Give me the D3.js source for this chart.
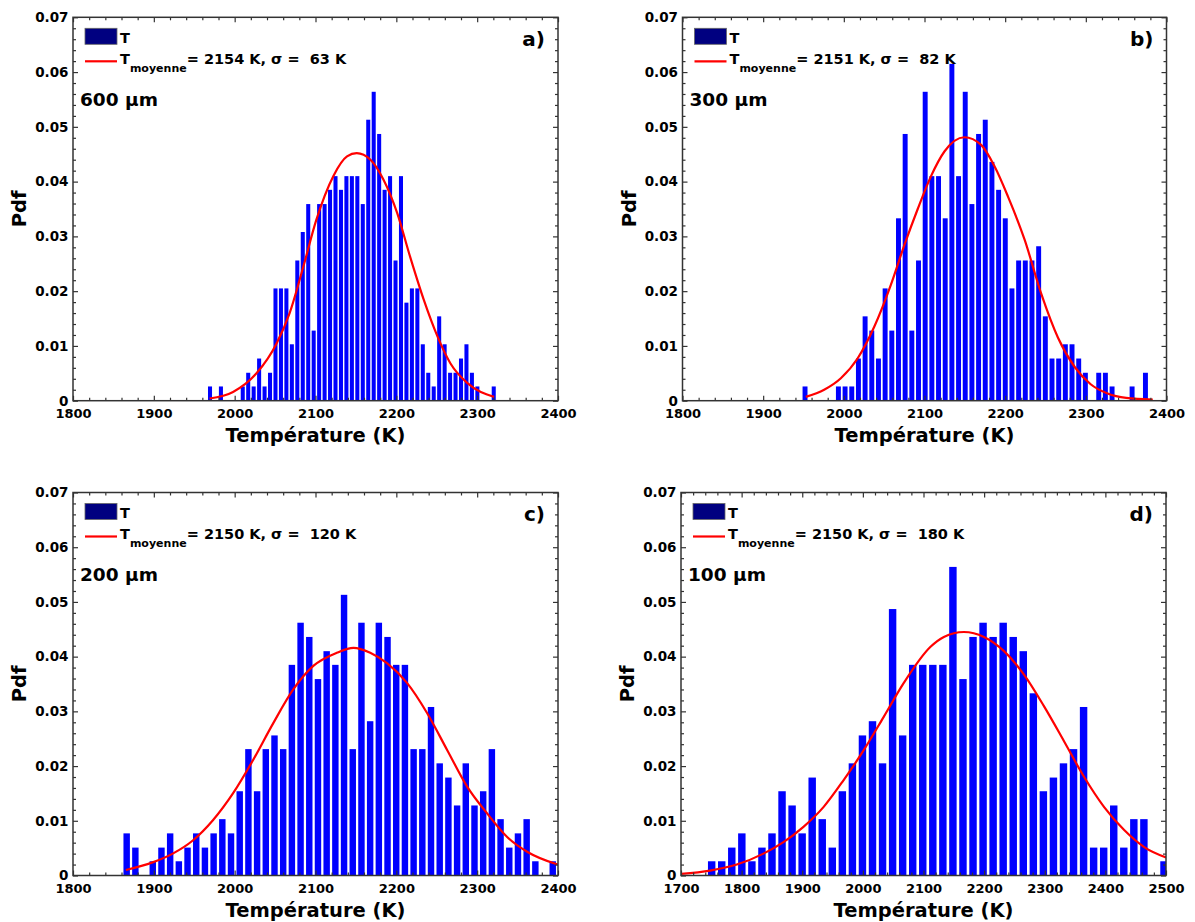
<!DOCTYPE html>
<html><head><meta charset="utf-8">
<script src="https://cdn.jsdelivr.net/npm/d3@7"></script>
<style>
body{margin:0;background:#fff}
text{font-family:'DejaVu Sans',sans-serif;font-weight:bold}
</style>
</head><body>
<svg id="chart" width="1195" height="922"></svg>
<script>
// ---------------- DATA ----------------
// Histogram Pdf values, one per bin, from the first to the last bin
const pdfA = [0.0026,0,0.0026,0,0,0,0.0026,0.0051,0.0026,0.0077,
  0.0026,0.0051,0.0205,0.0205,0.0205,0.0103,0.0256,0.0308,0.0359,0.0128,
  0.0359,0.0359,0.0385,0.0410,0.0385,0.0410,0.0410,0.0410,0.0359,0.0513,
  0.0564,0.0487,0.0385,0.0410,0.0256,0.0410,0.0179,0.0205,0.0205,0.0103,
  0.0051,0.0026,0.0154,0.0103,0.0051,0.0051,0.0077,0.0103,0.0051,0.0026,
  0,0,0.0026];
const pdfB = [0.0026,0,0,0,0,0.0026,0.0026,0.0026,0.0077,0.0154,
  0.0128,0.0077,0.0205,0.0128,0.0333,0.0487,0.0128,0.0256,0.0564,0.0410,
  0.0410,0.0333,0.0615,0.0410,0.0564,0.0359,0.0487,0.0513,0.0436,0.0385,
  0.0333,0.0205,0.0256,0.0256,0.0256,0.0282,0.0154,0.0077,0.0077,0.0103,
  0.0103,0.0077,0.0051,0,0.0051,0.0051,0.0026,0,0,0.0026,
  0,0.0051];
const pdfC = [0.0077,0.0051,0,0.0026,0.0051,0.0077,0.0026,0.0051,0.0077,0.0051,
  0.0077,0.0103,0.0077,0.0154,0.0231,0.0154,0.0231,0.0256,0.0231,0.0385,
  0.0462,0.0436,0.0359,0.0410,0.0385,0.0513,0.0231,0.0462,0.0282,0.0462,
  0.0436,0.0385,0.0385,0.0231,0.0231,0.0308,0.0205,0.0179,0.0128,0.0205,
  0.0128,0.0154,0.0231,0.0103,0.0051,0.0077,0.0103,0.0026,0,0.0026];
const pdfD = [0.0026,0.0026,0.0051,0.0077,0.0026,0.0051,0.0077,0.0154,0.0128,0.0077,
  0.0179,0.0103,0.0051,0.0154,0.0205,0.0256,0.0282,0.0205,0.0487,0.0256,
  0.0385,0.0385,0.0385,0.0385,0.0564,0.0359,0.0436,0.0462,0.0436,0.0462,
  0.0436,0.0410,0.0333,0.0154,0.0179,0.0205,0.0231,0.0308,0.0051,0.0051,
  0.0128,0.0051,0.0103,0.0103,0,0.0026];
// Centre temperature of first and last bin (K)
const binRangeA = [1969.5, 2320.5];
const binRangeB = [1951.9, 2373.9];
const binRangeC = [1866.4, 2393.5];
const binRangeD = [1750.6, 2496.7];

// Fitted normal curve
const curveTA = [1969,1998,2027,2052,2068,2085,2101,2122,2139,2151,2168,2184,2201,2217,2234,2251,2267,2288,2321];
const curvePA = [0.0004,0.0016,0.005,0.0105,0.016,0.0245,0.033,0.041,0.0446,0.0452,0.044,0.0404,0.0343,0.0263,0.0184,0.0117,0.0068,0.0032,0.0007];
const curveTB = [1952.8,1975.6,1996.3,2017,2037.7,2058.4,2075,2091.6,2108.1,2124.7,2149.5,2170.2,2186.8,2203.4,2224.1,2244.8,2265.5,2286,2306,2327,2350,2383];
const curvePB = [0.0007,0.002,0.0041,0.0077,0.0135,0.0212,0.0284,0.0350,0.0410,0.0455,0.0481,0.0467,0.0428,0.0373,0.0294,0.0195,0.0115,0.0062,0.003,0.0013,0.0005,0.0002];
const curveTC = [1865.4,1898.5,1923.4,1948.2,1973.1,1997.9,2022.8,2047.6,2072.5,2097.3,2126.3,2147,2167.7,2188.4,2213.2,2238,2263,2287.8,2312.6,2337.4,2362.3,2399.6];
const curvePC = [0.001,0.0024,0.004,0.0064,0.0101,0.015,0.0211,0.0278,0.034,0.0383,0.0407,0.0416,0.0407,0.0388,0.0352,0.0297,0.0229,0.0162,0.0113,0.007,0.0043,0.002];
const curveTD = [1700,1748,1792,1836,1869,1902,1935,1968,2001.4,2034.4,2067.5,2111.6,2133.6,2166.7,2199.7,2232.8,2265.8,2298.9,2332,2365,2398,2431,2464,2500];
const curvePD = [0.0003,0.0009,0.002,0.004,0.0061,0.0089,0.0125,0.0174,0.0229,0.029,0.0352,0.0418,0.0436,0.0445,0.0436,0.041,0.0367,0.0309,0.0245,0.018,0.0125,0.0083,0.0052,0.0033];

// Legend / annotation texts
const panelTags  = ["a)", "b)", "c)", "d)"];
const sizeLabels = ["600 µm", "300 µm", "200 µm", "100 µm"];
const meanValues = [2154, 2151, 2150, 2150];
const sigmaValues = [63, 82, 120, 180];

// Axis ticks
const xTicksABC = [1800,1900,2000,2100,2200,2300,2400];
const xTicksD   = [1700,1800,1900,2000,2100,2200,2300,2400,2500];
const yTicks = [0,0.01,0.02,0.03,0.04,0.05,0.06,0.07];
const yTickLabels = ["0","0.01","0.02","0.03","0.04","0.05","0.06","0.07"];
const yLabel = "Pdf";
const xLabel = "Température (K)";

// ---------------- LAYOUT ----------------
const boxes = [
  {L:73,    R:558,    T:17.3,  B:400.7},
  {L:682.5, R:1166.5, T:17.3,  B:400.7},
  {L:73,    R:558,    T:492.5, B:875.5},
  {L:681,   R:1166,   T:492.5, B:875.5}
];
const pdfs = [pdfA, pdfB, pdfC, pdfD];
const ranges = [binRangeA, binRangeB, binRangeC, binRangeD];
const curvesT = [curveTA, curveTB, curveTC, curveTD];
const curvesP = [curvePA, curvePB, curvePC, curvePD];
const xTickSets = [xTicksABC, xTicksABC, xTicksABC, xTicksD];

const svg = d3.select("#chart");
const FRAME = "#333333";
const FONT = "'DejaVu Sans', sans-serif";

function styleAxis(g, size){
  g.select(".domain").remove();
  g.attr("font-family", FONT).attr("font-size", size).attr("font-weight", "bold").attr("color", "#000");
  g.selectAll(".tick line").attr("stroke", FRAME).attr("stroke-width", 1.2);
}

boxes.forEach((b, k) => {
  const xt = xTickSets[k];
  const xDom = [xt[0], xt[xt.length-1]];
  const x = d3.scaleLinear().domain(xDom).range([b.L, b.R]);
  const y = d3.scaleLinear().domain([0, 0.07]).range([b.B, b.T]);
  const g = svg.append("g");

  const clipId = "clip" + k;
  svg.append("clipPath").attr("id", clipId).append("rect")
    .attr("x", b.L).attr("y", b.T).attr("width", b.R - b.L).attr("height", b.B - b.T);

  // bars
  const vals = pdfs[k];
  const r = ranges[k];
  const step = (r[1] - r[0]) / (vals.length - 1);
  const bw = (x(r[0] + step) - x(r[0])) * 0.74;
  g.append("g").attr("clip-path", `url(#${clipId})`)
    .selectAll("rect").data(vals).join("rect")
    .attr("x", (d, i) => x(r[0] + i * step) - bw / 2)
    .attr("width", bw)
    .attr("y", d => y(d))
    .attr("height", d => y(0) - y(d))
    .attr("fill", "#0000ff");

  // fitted curve
  const line = d3.line().x(d => x(d[0])).y(d => y(d[1])).curve(d3.curveMonotoneX);
  g.append("path").attr("clip-path", `url(#${clipId})`)
    .datum(d3.zip(curvesT[k], curvesP[k]))
    .attr("d", line).attr("fill", "none")
    .attr("stroke", "#ff0000").attr("stroke-width", 2.2);

  // axes (ticks inward, mirrored)
  const minorX = d3.range(xDom[0], xDom[1] + 0.1, 20).filter(v => xt.indexOf(v) < 0);
  const minorY = d3.range(0, 0.0701, 0.002).filter(v => Math.abs(Math.round(v * 100) - v * 100) > 1e-6);

  g.append("g").attr("transform", `translate(0,${b.B})`)
    .call(d3.axisBottom(x).tickValues(xt).tickSize(-5).tickSizeOuter(0).tickPadding(8.5).tickFormat(d3.format("d")))
    .call(a => styleAxis(a, 13));
  g.append("g").attr("transform", `translate(0,${b.B})`)
    .call(d3.axisBottom(x).tickValues(minorX).tickSize(-3).tickSizeOuter(0).tickFormat(""))
    .call(a => styleAxis(a, 13));
  g.append("g").attr("transform", `translate(0,${b.T})`)
    .call(d3.axisTop(x).tickValues(xt).tickSize(-5).tickSizeOuter(0).tickFormat(""))
    .call(a => styleAxis(a, 13));
  g.append("g").attr("transform", `translate(0,${b.T})`)
    .call(d3.axisTop(x).tickValues(minorX).tickSize(-3).tickSizeOuter(0).tickFormat(""))
    .call(a => styleAxis(a, 13));

  g.append("g").attr("transform", `translate(${b.L},0)`)
    .call(d3.axisLeft(y).tickValues(yTicks).tickSize(-5).tickSizeOuter(0).tickPadding(4.5).tickFormat((d, i) => yTickLabels[i]))
    .call(a => styleAxis(a, 13.5));
  g.append("g").attr("transform", `translate(${b.L},0)`)
    .call(d3.axisLeft(y).tickValues(minorY).tickSize(-3).tickSizeOuter(0).tickFormat(""))
    .call(a => styleAxis(a, 13));
  g.append("g").attr("transform", `translate(${b.R},0)`)
    .call(d3.axisRight(y).tickValues(yTicks).tickSize(-5).tickSizeOuter(0).tickFormat(""))
    .call(a => styleAxis(a, 13));
  g.append("g").attr("transform", `translate(${b.R},0)`)
    .call(d3.axisRight(y).tickValues(minorY).tickSize(-3).tickSizeOuter(0).tickFormat(""))
    .call(a => styleAxis(a, 13));

  // frame
  g.append("rect").attr("x", b.L).attr("y", b.T).attr("width", b.R - b.L).attr("height", b.B - b.T)
    .attr("fill", "none").attr("stroke", FRAME).attr("stroke-width", 1.5);

  // legend
  g.append("rect").attr("x", b.L + 12).attr("y", b.T + 11).attr("width", 32).attr("height", 16)
    .attr("fill", "#000080").attr("stroke", "#666").attr("stroke-width", 0.8);
  g.append("text").attr("x", b.L + 47).attr("y", b.T + 25.5).attr("font-size", 14.5).text("T");
  g.append("line").attr("x1", b.L + 12).attr("x2", b.L + 44).attr("y1", b.T + 44).attr("y2", b.T + 44)
    .attr("stroke", "#ff0000").attr("stroke-width", 2.2);
  const lt = g.append("text").attr("x", b.L + 47).attr("y", b.T + 46.7).attr("font-size", 14.5)
    .style("white-space", "pre");
  lt.append("tspan").text("T");
  lt.append("tspan").attr("font-size", 11).attr("dy", 8).text("moyenne");
  lt.append("tspan").attr("dy", -8).text(`= ${meanValues[k]} K, σ =  ${sigmaValues[k]} K`);

  g.append("text").attr("x", b.L + 7).attr("y", b.T + 88.7).attr("font-size", 18.5).text(sizeLabels[k]);
  g.append("text").attr("x", b.R - 13).attr("y", b.T + 28.7).attr("font-size", 20)
    .attr("text-anchor", "end").text(panelTags[k]);

  // axis titles
  g.append("text").attr("transform", `translate(${b.L - 47},${(b.T + b.B) / 2}) rotate(-90)`)
    .attr("text-anchor", "middle").attr("font-size", 19.5).text(yLabel);
  g.append("text").attr("x", (b.L + b.R) / 2).attr("y", b.B + 41.5)
    .attr("text-anchor", "middle").attr("font-size", 19.5).text(xLabel);
});
</script>
</body></html>
